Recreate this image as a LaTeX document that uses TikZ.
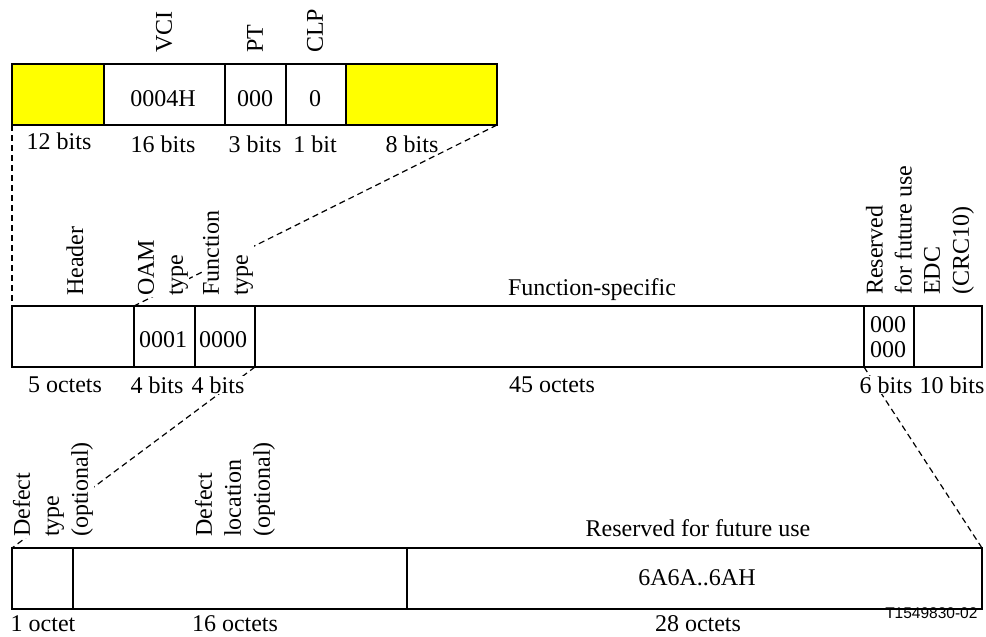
\documentclass[tikz,border=0pt]{standalone}
\usepackage{fontspec}
\setmainfont{Liberation Serif}
\newfontfamily\tagfont{Liberation Sans}
\usepackage{tikz}
\usetikzlibrary{positioning}
\definecolor{fieldYellow}{HTML}{FFFF00}

\tikzset{
  field/.style={draw, line width=1.5pt, anchor=north west, minimum height=61pt,
    inner sep=0pt, outer sep=0pt},
  vlab/.style={rotate=90, anchor=west, align=left, fill=white, inner sep=1pt},
  hlab/.style={fill=white, inner sep=1pt},
  zoomline/.style={line width=1.2pt, dash pattern=on 6pt off 4pt},
}

\begin{document}
\begin{tikzpicture}[x=1pt, y=-1pt, font=\fontsize{24}{29}\selectfont]
  \useasboundingbox (0,0) rectangle (986,637);

  % ATM cell header
  \node[field, fill=fieldYellow, minimum width=92pt] (gfc) at (12,64) {};
  \node[field, minimum width=121pt, right=0pt of gfc] (vci) {};
  \node[field, minimum width=61pt, right=0pt of vci] (pt) {};
  \node[field, minimum width=60pt, right=0pt of pt] (clp) {};
  \node[field, fill=fieldYellow, minimum width=151pt, right=0pt of clp] (hec) {};

  % OAM cell
  \node[field, minimum width=122pt] (hdr) at (12,306) {};
  \node[field, minimum width=61pt, right=0pt of hdr] (oam) {};
  \node[field, minimum width=60pt, right=0pt of oam] (fnt) {};
  \node[field, minimum width=609pt, right=0pt of fnt] (fsp) {};
  \node[field, minimum width=50pt, right=0pt of fsp] (rsv) {};
  \node[field, minimum width=68pt, right=0pt of rsv] (edc) {};

  % Function-specific field
  \node[field, minimum width=61pt] (dtype) at (12,548) {};
  \node[field, minimum width=334pt, right=0pt of dtype] (dloc) {};
  \node[field, minimum width=575pt, right=0pt of dloc] (rfu) {};

  % Zoom lines
  \draw[zoomline] (gfc.south west) -- (hdr.north west);
  \draw[zoomline] (hec.south east) -- (hdr.north east);
  \draw[zoomline] (fsp.south west) -- (dtype.north west);
  \draw[zoomline] (fsp.south east) -- (rfu.north east);

  % Header labels
  \node[vlab] (vciLab) at (164,54) {VCI};
  \node[vlab] (ptLab) at (255,54) {PT};
  \node[vlab] (clpLab) at (315,54) {CLP};
  \node (vciVal) at (163,99) {0004H};
  \node (ptVal) at (255,99) {000};
  \node (clpVal) at (315,99) {0};
  \node[hlab] (gfcLen) at (59,141) {12 bits};
  \node[hlab] (vciLen) at (163,144) {16 bits};
  \node[hlab] (ptLen) at (255,144) {3 bits};
  \node[hlab] (clpLen) at (315,144) {1 bit};
  \node[hlab] (hecLen) at (412,144) {8 bits};

  % OAM cell labels
  \node[vlab] (hdrLab) at (75,297) {Header};
  \node[vlab] (oamLab) at (163,297) {OAM\\type};
  \node[vlab] (fntLab) at (228,297) {Function\\type};
  \node[hlab] (fspLab) at (592,290) {Function-specific};
  \node[vlab] (rsvLab) at (889,296) {Reserved\\for future use};
  \node[vlab] (edcLab) at (949,296) {EDC\\(CRC10)};
  \node (oamVal) at (163,340) {0001};
  \node (fntVal) at (223,340) {0000};
  \node[align=center, font=\fontsize{24}{25}\selectfont] (rsvVal) at (888,337) {000\\000};
  \node[hlab] (hdrLen) at (65,385) {5 octets};
  \node[hlab] (oamLen) at (157,385) {4 bits};
  \node[hlab] (fntLen) at (218,385) {4 bits};
  \node[hlab] (fspLen) at (552,385) {45 octets};
  \node[hlab] (rsvLen) at (886,385) {6 bits};
  \node[hlab] (edcLen) at (952,385) {10 bits};

  % Function-specific labels
  \node[vlab] (dtypeLab) at (53,538) {Defect\\type\\(optional)};
  \node[vlab] (dlocLab) at (235,538) {Defect\\location\\(optional)};
  \node[hlab] (rfuLab) at (698,528) {Reserved for future use};
  \node (rfuVal) at (697,578) {6A6A..6AH};
  \node[inner sep=0pt] (dtypeLen) at (43,624) {1 octet};
  \node[inner sep=0pt] (dlocLen) at (235,624) {16 octets};
  \node[inner sep=0pt] (rfuLen) at (698,624) {28 octets};
  \node[anchor=east, font=\tagfont\fontsize{15.5}{18}\selectfont] (figTag) at (981,613) {T1549830-02};
\end{tikzpicture}
\end{document}
